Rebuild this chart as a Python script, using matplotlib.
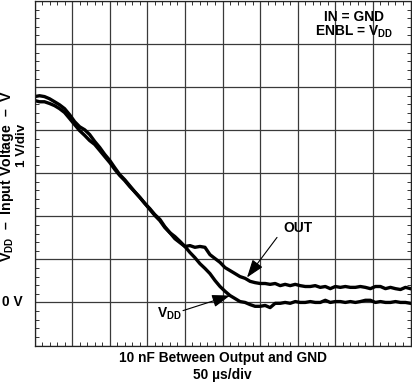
import matplotlib
matplotlib.use("Agg")
import matplotlib.pyplot as plt
from matplotlib.ticker import MultipleLocator

plt.rcParams['font.family'] = ['Liberation Sans', 'DejaVu Sans']
plt.rcParams['mathtext.fontset'] = 'custom'
plt.rcParams['mathtext.rm'] = 'Liberation Sans:bold'
plt.rcParams['mathtext.bf'] = 'Liberation Sans:bold'
plt.rcParams['mathtext.it'] = 'Liberation Sans:bold'

# time samples (µs)
time_us = [0, 6.7, 13.3, 20, 26.7, 33.3, 40, 46.7, 53.3, 60, 66.7, 73.3, 80, 86.7, 93.3,
           100, 106.7, 113.3, 120, 126.7, 133.3, 140, 146.7, 153.3, 160, 166.7, 173.3, 180,
           186.7, 193.3, 200, 206.7, 213.3, 220, 226.7, 233.3, 240, 246.7, 253.3, 260, 266.7,
           273.3, 280, 286.7, 293.3, 300, 306.7, 313.3, 320, 326.7, 333.3, 340, 346.7, 353.3,
           360, 366.7, 373.3, 380, 386.7, 393.3, 400, 406.7, 413.3, 420, 426.7, 433.3, 440,
           446.7, 453.3, 460, 466.7, 473.3, 480, 486.7, 493.3, 500]

out_v = [4.78, 4.80, 4.78, 4.73, 4.66, 4.59, 4.50, 4.36, 4.20, 4.08, 4.01, 3.90, 3.74, 3.60,
         3.44, 3.30, 3.13, 2.97, 2.85, 2.71, 2.57, 2.44, 2.30, 2.16, 2.02, 1.90, 1.74, 1.62,
         1.48, 1.39, 1.30, 1.32, 1.28, 1.30, 1.28, 1.11, 1.02, 0.93, 0.81, 0.74, 0.67, 0.60,
         0.56, 0.49, 0.46, 0.44, 0.44, 0.42, 0.44, 0.39, 0.42, 0.39, 0.42, 0.39, 0.37, 0.37,
         0.39, 0.35, 0.37, 0.32, 0.37, 0.35, 0.37, 0.35, 0.35, 0.37, 0.35, 0.32, 0.37, 0.37,
         0.32, 0.35, 0.32, 0.30, 0.35, 0.32]

vdd_v = [4.69, 4.66, 4.66, 4.62, 4.57, 4.50, 4.41, 4.27, 4.13, 3.99, 3.88, 3.76, 3.67, 3.53,
         3.39, 3.25, 3.09, 2.95, 2.83, 2.69, 2.57, 2.44, 2.30, 2.18, 2.04, 1.93, 1.76, 1.62,
         1.53, 1.42, 1.30, 1.16, 1.04, 0.90, 0.79, 0.67, 0.51, 0.37, 0.26, 0.16, 0.09, 0.02,
         0.00, -0.05, -0.09, -0.09, -0.07, -0.12, -0.02, -0.02, 0.00, -0.02, 0.02, 0.00, 0.00,
         0.02, 0.00, 0.00, 0.05, 0.00, 0.02, 0.02, 0.00, 0.02, 0.00, 0.02, 0.05, 0.05, 0.00,
         0.02, 0.00, 0.00, 0.02, 0.00, 0.00, -0.02]

W, H = 412, 383
fig = plt.figure(figsize=(W / 100, H / 100), dpi=100)
ax = fig.add_axes([34.5 / W, 1 - 345.5 / H, 376 / W, 344.5 / H])

ax.set_xlim(0, 500)
ax.set_ylim(-1, 7)
ax.xaxis.set_major_locator(MultipleLocator(50))
ax.xaxis.set_minor_locator(MultipleLocator(10))
ax.yaxis.set_major_locator(MultipleLocator(1))
ax.yaxis.set_minor_locator(MultipleLocator(0.2))
ax.tick_params(which='both', direction='in', top=True, right=True,
               labelbottom=False, labelleft=False)
ax.tick_params(which='major', length=0)
ax.tick_params(which='minor', length=3.2, width=0.7, color='#333333')
ax.grid(which='major', color='#3a3a3a', linewidth=0.9)
for s in ax.spines.values():
    s.set_linewidth(0.9)
    s.set_color('#222222')

ax.plot(time_us, out_v, color='black', lw=2.4, solid_joinstyle='round')
ax.plot(time_us, vdd_v, color='black', lw=2.4, solid_joinstyle='round')

fs = 9.9


def ftext(x, y, s, **kw):
    fig.text(x / W, 1 - y / H, s, fontsize=kw.pop('fontsize', fs), fontweight='bold', **kw)


ftext(354, 17, 'IN = GND', ha='center', va='center')
ftext(354, 32, r'ENBL = V$_{DD}$', ha='center', va='center')

# arrows
arrow = dict(arrowstyle='-|>,head_length=1.0,head_width=0.35', mutation_scale=11,
             lw=0.8, color='black', shrinkA=0, shrinkB=0)
ax.annotate('', xy=(282.6, 0.58), xytext=(322.5, 1.51), arrowprops=arrow)
ax.annotate('', xy=(260, 0.16), xytext=(197.5, -0.19), arrowprops=arrow)
ftext(297.5, 228, 'OUT', ha='center', va='center')
ftext(157, 314, r'V$_{DD}$', ha='left', va='center')

ftext(23, 302, '0 V', ha='right', va='center')
ftext(7.5, 176, r'V$_{DD}$  –  Input Voltage  –  V', rotation=90, ha='center', va='center',
      fontsize=10.2)
ftext(22, 145, '1 V/div', rotation=90, ha='center', va='center', fontsize=9.6)
ftext(222.5, 358, '10 nF Between Output and GND', ha='center', va='center')
ftext(222.5, 375, '50 µs/div', ha='center', va='center')

fig.savefig('out.png', dpi=100)
